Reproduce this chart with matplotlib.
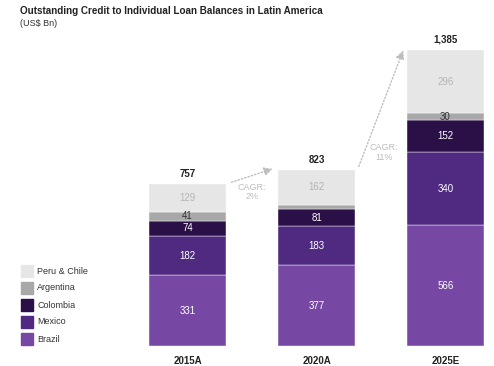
import matplotlib
matplotlib.use("Agg")
import matplotlib.pyplot as plt
from matplotlib.patches import Rectangle

plt.rcParams['font.family'] = ['Liberation Sans', 'DejaVu Sans']

years = ["2015A", "2020A", "2025E"]
brazil = [331, 377, 566]
mexico = [182, 183, 340]
colombia = [74, 81, 152]
argentina = [41, 20, 30]
peru_chile = [129, 162, 296]
totals = [757, 823, 1385]
cagr_labels = ["CAGR:\n2%", "CAGR:\n11%"]

series = [
    ("Brazil", brazil, "#7648a3", "white"),
    ("Mexico", mexico, "#4f2a80", "white"),
    ("Colombia", colombia, "#2b0f47", "white"),
    ("Argentina", argentina, "#a8a8a8", "#333333"),
    ("Peru & Chile", peru_chile, "#e6e6e6", "#b5b5b5"),
]

W, H = 494, 366
fig = plt.figure(figsize=(W / 100, H / 100), dpi=100)
ppu = 129.0
left_px = 187.5 - 0.5 * ppu
bottom_px = 346
top_px = 30
yscale = (346 - 50) / 1385.0
ax = fig.add_axes([left_px / W, (H - bottom_px) / H, 1 - left_px / W, (bottom_px - top_px) / H])
ax.set_xlim(-0.5, (W - 187.5) / ppu)
ax.set_ylim(0, (bottom_px - top_px) / yscale)
ax.axis("off")

x = list(range(len(years)))
bw = 0.6
bottoms = [0] * len(years)
for name, vals, col, tcol in series:
    ax.bar(x, vals, bw, bottom=bottoms, color=col, edgecolor="white", linewidth=0.3, label=name)
    for i, v in enumerate(vals):
        if v >= 25:
            ax.text(x[i], bottoms[i] + v / 2, str(v), ha="center", va="center",
                    fontsize=7, color=tcol)
    bottoms = [b + v for b, v in zip(bottoms, vals)]

for i, t in enumerate(totals):
    ax.text(x[i], t + 25, f"{t:,}", ha="center", va="bottom", fontsize=7, fontweight="bold", color="#222222")
    ax.text(x[i], -45, years[i], ha="center", va="top", fontsize=7, fontweight="bold", color="#222222")

arrow_kw = dict(arrowstyle="-|>,head_length=0.5,head_width=0.25", color="#bdbdbd", lw=1.0, linestyle=(0, (1, 1.5)))
for i in range(2):
    x0 = x[i] + bw / 2 + 0.02
    x1 = x[i + 1] - bw / 2 - 0.02
    ax.annotate("", xy=(x1, totals[i + 1] + 10), xytext=(x0, totals[i] + 5), arrowprops=arrow_kw)
ax.text(0.5, 765, cagr_labels[0], ha="center", va="top", fontsize=6.5, color="#bdbdbd", linespacing=1.1)
ax.text(1.52, 950, cagr_labels[1], ha="center", va="top", fontsize=6.5, color="#bdbdbd", linespacing=1.1)

fig.text(20 / W, 1 - 11 / H, "Outstanding Credit to Individual Loan Balances in Latin America",
         fontsize=7.1, fontweight="bold", color="#222222", va="center")
fig.text(20 / W, 1 - 23 / H, "(US$ Bn)", fontsize=6.5, color="#333333", va="center")

# legend
leg_items = list(reversed(series))
for k, (name, vals, col, tcol) in enumerate(leg_items):
    yc = 271 + k * 17
    fig.patches.append(Rectangle((21 / W, 1 - (yc + 6) / H), 12 / W, 12 / H,
                                 transform=fig.transFigure, color=col, figure=fig))
    fig.text(37 / W, 1 - yc / H, name, fontsize=6.5, color="#333333", va="center")

fig.savefig("out.png", dpi=100)
